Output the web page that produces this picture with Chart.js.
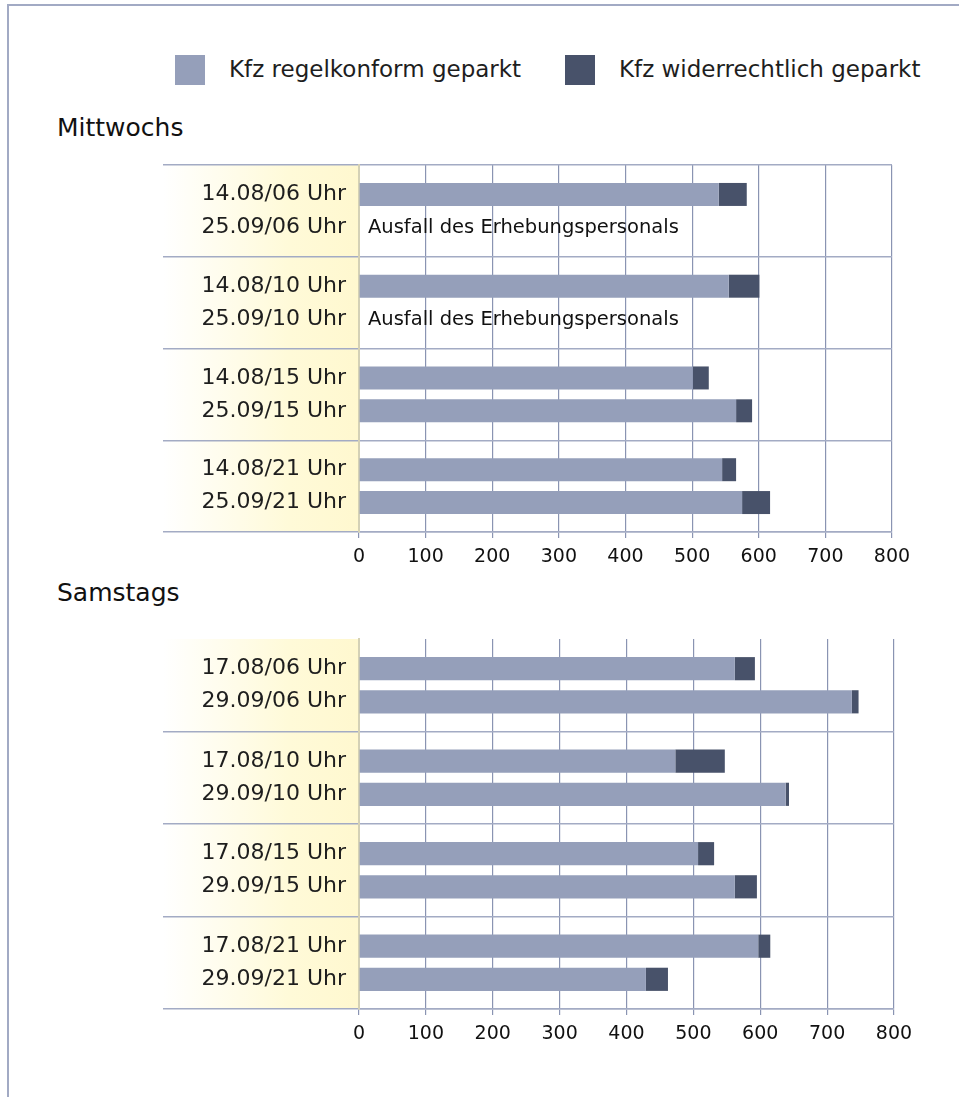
<!DOCTYPE html>
<html>
<head>
<meta charset="utf-8">
<script src="https://cdn.jsdelivr.net/npm/chart.js@4.4.1/dist/chart.umd.min.js"></script>
<style>
  body { margin: 0; background: #fff; font-family: "DejaVu Sans", sans-serif; color: #1e1e1e; }
  #page { position: relative; width: 959px; height: 1097px; overflow: hidden; }
  #frame { position: absolute; left: 7px; top: 4px; right: -4px; bottom: -4px;
           border-top: 2px solid #a2aac4; border-left: 2px solid #a2aac4; }
  .legend-box { position: absolute; top: 55px; width: 30px; height: 30px; }
  .legend-text { position: absolute; top: 53px; font-size: 23px; line-height: 32px; white-space: nowrap; }
  .heading { position: absolute; left: 57px; font-size: 25px; line-height: 30px; color: #111; }
  canvas { position: absolute; left: 0; }
</style>
</head>
<body>
<div id="page">
  <div id="frame"></div>

  <div class="legend-box" style="left:175px; background:#959fba;"></div>
  <div class="legend-text" style="left:229px;">Kfz regelkonform geparkt</div>
  <div class="legend-box" style="left:565px; background:#48526a;"></div>
  <div class="legend-text" style="left:619px;">Kfz widerrechtlich geparkt</div>

  <div class="heading" style="top:113px;">Mittwochs</div>
  <div class="heading" style="top:578px;">Samstags</div>

  <canvas id="wedChart" width="959" height="425" style="top:150px;"></canvas>
  <canvas id="satChart" width="959" height="435" style="top:620px;"></canvas>
</div>

<script>
// Mittwochs: first and second survey date per time slot
const wedLabels = [
  ['14.08/06 Uhr', '25.09/06 Uhr'],
  ['14.08/10 Uhr', '25.09/10 Uhr'],
  ['14.08/15 Uhr', '25.09/15 Uhr'],
  ['14.08/21 Uhr', '25.09/21 Uhr']
];
const wedLegalFirst   = [540, 555, 501, 545];
const wedIllegalFirst = [42, 46, 24, 21];
const wedLegalSecond   = [null, null, 566, 575];
const wedIllegalSecond = [null, null, 24, 42];

// Samstags
const satLabels = [
  ['17.08/06 Uhr', '29.09/06 Uhr'],
  ['17.08/10 Uhr', '29.09/10 Uhr'],
  ['17.08/15 Uhr', '29.09/15 Uhr'],
  ['17.08/21 Uhr', '29.09/21 Uhr']
];
const satLegalFirst   = [562, 473, 507, 597];
const satIllegalFirst = [30, 74, 24, 18];
const satLegalSecond   = [737, 638, 562, 429];
const satIllegalSecond = [10, 5, 33, 33];

const seriesNames = ['Kfz regelkonform geparkt', 'Kfz widerrechtlich geparkt'];
const xTicks = [0, 100, 200, 300, 400, 500, 600, 700, 800];
const missingNote = 'Ausfall des Erhebungspersonals';

const lightBar = '#959fba';
const darkBar = '#48526a';
const gridColor = '#8a94b2';
const sepColor = '#a3abc4';
const bandWidth = 196;

// yellow fade behind the row labels
const labelBand = {
  id: 'labelBand',
  beforeDraw(chart) {
    const { ctx, chartArea } = chart;
    const x0 = chartArea.left - bandWidth;
    const g = ctx.createLinearGradient(x0, 0, chartArea.left, 0);
    g.addColorStop(0, '#ffffff');
    g.addColorStop(0.65, '#fffad8');
    g.addColorStop(1, '#fff8cf');
    ctx.save();
    ctx.fillStyle = g;
    ctx.fillRect(x0, chartArea.top, bandWidth, chartArea.bottom - chartArea.top);
    ctx.restore();
  }
};

// text for the slots without a survey
const missingNotes = {
  id: 'missingNotes',
  afterDatasetsDraw(chart, args, opts) {
    if (!opts.text) return;
    const { ctx } = chart;
    const meta = chart.getDatasetMeta(2);
    const x = chart.scales.x.getPixelForValue(0) + 9;
    ctx.save();
    ctx.font = '19.5px "DejaVu Sans"';
    ctx.fillStyle = '#111';
    ctx.textBaseline = 'middle';
    chart.data.datasets[2].data.forEach((v, i) => {
      if (v === null && meta.data[i]) ctx.fillText(opts.text, x, meta.data[i].y + 1);
    });
    ctx.restore();
  }
};

function makeChart(id, labels, legalA, illegalA, legalB, illegalB, cfg) {
  const bar = { barPercentage: 0.7, categoryPercentage: 0.716, borderWidth: 0 };
  return new Chart(document.getElementById(id), {
    type: 'bar',
    data: {
      labels: labels,
      datasets: [
        { label: seriesNames[0], data: legalA, stack: 'first', backgroundColor: lightBar, ...bar },
        { label: seriesNames[1], data: illegalA, stack: 'first', backgroundColor: darkBar, ...bar },
        { label: seriesNames[0], data: legalB, stack: 'second', backgroundColor: lightBar, ...bar },
        { label: seriesNames[1], data: illegalB, stack: 'second', backgroundColor: darkBar, ...bar }
      ]
    },
    options: {
      indexAxis: 'y',
      responsive: false,
      animation: false,
      layout: { padding: { top: cfg.padTop, right: cfg.padRight, left: 0, bottom: 0 } },
      plugins: {
        legend: { display: false },
        tooltip: { enabled: false },
        missingNotes: { text: cfg.note }
      },
      scales: {
        x: {
          type: 'linear',
          stacked: true,
          min: 0,
          max: 800,
          afterBuildTicks: (scale) => { scale.ticks = xTicks.map(v => ({ value: v })); },
          afterFit: (scale) => { scale.height = cfg.axisHeight; },
          ticks: { color: '#111', padding: 8, font: { family: 'DejaVu Sans', size: 19 } },
          grid: {
            color: (c) => c.index === 0 ? 'transparent' : gridColor,
            tickColor: gridColor,
            tickLength: 6,
            lineWidth: 1.2
          },
          border: { display: true, color: sepColor, width: 1.5 }
        },
        y: {
          type: 'category',
          stacked: true,
          offset: true,
          afterFit: (scale) => { scale.width = cfg.axisWidth; },
          ticks: {
            color: '#1e1e1e',
            padding: -(bandWidth - 13),
            font: { family: 'DejaVu Sans', size: 22, lineHeight: 33 / 22 }
          },
          grid: {
            offset: true,
            color: (c) => (cfg.skipTopLine && c.index === 0) ? 'transparent' : sepColor,
            tickColor: (c) => (cfg.skipTopLine && c.index === 0) ? 'transparent' : sepColor,
            tickLength: bandWidth,
            lineWidth: 1.5
          },
          border: { display: true, color: '#d4d1b6', width: 2 }
        }
      }
    },
    plugins: [labelBand, missingNotes]
  });
}

makeChart('wedChart', wedLabels, wedLegalFirst, wedIllegalFirst, wedLegalSecond, wedIllegalSecond,
  { padTop: 15, padRight: 67, axisHeight: 43, axisWidth: 359, note: missingNote, skipTopLine: false });
makeChart('satChart', satLabels, satLegalFirst, satIllegalFirst, satLegalSecond, satIllegalSecond,
  { padTop: 19, padRight: 65, axisHeight: 46, axisWidth: 359, note: null, skipTopLine: true });
</script>
</body>
</html>
